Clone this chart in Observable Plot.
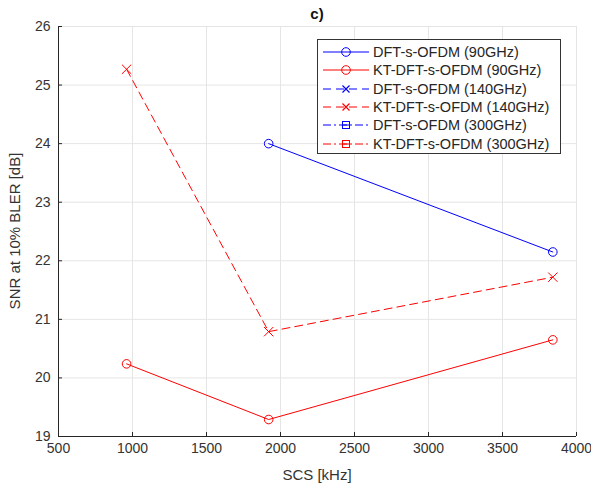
<!DOCTYPE html>
<html><head><meta charset="utf-8">
<script src="https://cdn.jsdelivr.net/npm/d3@7"></script>
<script src="https://cdn.jsdelivr.net/npm/@observablehq/plot@0.6"></script>
<style>
body{margin:0;background:#fff;font-family:"Liberation Sans",Arial,sans-serif;}
#wrap{position:relative;width:591px;height:489px;}
#legend{position:absolute;left:317px;top:39px;width:244px;height:115px;border:1px solid #333;background:#fff;box-sizing:border-box;padding-top:3px;}
.row{display:flex;align-items:center;height:18.3px;font-size:14.5px;color:#262626;white-space:nowrap;}
.row svg{margin-left:5px;margin-right:4px;flex:none;}
</style></head><body><div id="wrap"></div>
<script>
// data
const scsDFT90 = [1920, 3840];
const snrDFT90 = [24.0, 22.15];
const scsKT90 = [960, 1920, 3840];
const snrKT90 = [20.24, 19.29, 20.65];
const scsKT140 = [960, 1920, 3840];
const snrKT140 = [25.27, 20.79, 21.72];
const xTicks = [500, 1000, 1500, 2000, 2500, 3000, 3500, 4000];
const yTicks = [19, 20, 21, 22, 23, 24, 25, 26];
const seriesNames = ["DFT-s-OFDM (90GHz)", "KT-DFT-s-OFDM (90GHz)", "DFT-s-OFDM (140GHz)", "KT-DFT-s-OFDM (140GHz)", "DFT-s-OFDM (300GHz)", "KT-DFT-s-OFDM (300GHz)"];
const seriesColors = ["#0000ff", "#ff0000", "#0000ff", "#ff0000", "#0000ff", "#ff0000"];
const seriesDash = ["none", "none", "8,5", "8,5", "8,3,2,3", "8,3,2,3"];
const seriesSymbol = ["circle", "circle", "times", "times", "square", "square"];

const toRows = (xs, ys) => xs.map((x, i) => ({x, y: ys[i]}));
const series = [
  toRows(scsDFT90, snrDFT90),
  toRows(scsKT90, snrKT90),
  [],
  toRows(scsKT140, snrKT140),
  [],
  []
];

const W = 591, H = 489, mL = 58, mR = 15, mT = 26, mB = 53;
const frameH = H - mT - mB, frameW = W - mL - mR;
const axisColor = "#262626";

const marks = [
  Plot.ruleX(xTicks, {stroke: "#e5e5e5", strokeWidth: 1}),
  Plot.ruleY(yTicks, {stroke: "#e5e5e5", strokeWidth: 1}),
];
series.forEach((rows, i) => {
  if (!rows.length) return;
  marks.push(Plot.line(rows, {x: "x", y: "y", stroke: seriesColors[i], strokeWidth: 1, strokeDasharray: seriesDash[i] === "none" ? null : seriesDash[i]}));
  marks.push(Plot.dot(rows, {x: "x", y: "y", stroke: seriesColors[i], symbol: seriesSymbol[i], r: 4.3, fill: "none", strokeWidth: 1}));
});
marks.push(
  Plot.ruleY([19], {stroke: axisColor, strokeWidth: 1}),
  Plot.ruleX([500], {stroke: axisColor, strokeWidth: 1}),
  Plot.ruleX(xTicks, {stroke: axisColor, insetTop: frameH - 4}),
  Plot.ruleY(yTicks, {stroke: axisColor, insetRight: frameW - 4}),
  Plot.axisX(xTicks, {tickSize: 0, tickPadding: 7, fontSize: 14, fill: "#333", label: null, tickFormat: d => String(d)}),
  Plot.axisY(yTicks, {tickSize: 0, tickPadding: 8, fontSize: 14, fill: "#333", label: null, tickFormat: d => String(d)})
);

const chart = Plot.plot({
  width: W, height: H,
  marginLeft: mL, marginRight: mR, marginTop: mT, marginBottom: mB,
  style: {fontFamily: '"Liberation Sans", Arial, sans-serif', background: "#fff", overflow: "visible"},
  x: {domain: [500, 4000]},
  y: {domain: [19, 26]},
  marks
});
const wrap = document.getElementById("wrap");
wrap.appendChild(chart);

// titles as real text
const svg = d3.select(chart);
svg.append("text").attr("x", (mL + W - mR) / 2).attr("y", 19).attr("text-anchor", "middle")
  .attr("font-size", 15).attr("font-weight", "bold").attr("fill", "#111").text("c)");
svg.append("text").attr("x", (mL + W - mR) / 2).attr("y", 480).attr("text-anchor", "middle")
  .attr("font-size", 15).attr("fill", "#333").text("SCS [kHz]");
svg.append("text").attr("transform", `translate(20,${mT + frameH / 2}) rotate(-90)`).attr("text-anchor", "middle")
  .attr("font-size", 15).attr("fill", "#333").text("SNR at 10% BLER [dB]");

// legend
const leg = document.createElement("div");
leg.id = "legend";
seriesNames.forEach((name, i) => {
  const row = document.createElement("div");
  row.className = "row";
  const c = seriesColors[i];
  let sym = "";
  if (seriesSymbol[i] === "circle") sym = `<circle cx="23" cy="7" r="4.3" fill="none" stroke="${c}"/>`;
  else if (seriesSymbol[i] === "times") sym = `<path d="M19.5,3.5L26.5,10.5M26.5,3.5L19.5,10.5" stroke="${c}" stroke-width="1.2"/>`;
  else sym = `<rect x="19.5" y="3.5" width="7" height="7" fill="none" stroke="${c}"/><line x1="19.5" x2="26.5" y1="7" y2="7" stroke="${c}"/>`;
  const dash = seriesDash[i] === "none" ? "" : `stroke-dasharray="${seriesDash[i]}"`;
  row.innerHTML = `<svg width="46" height="14"><line x1="0" x2="46" y1="7" y2="7" stroke="${c}" ${dash}/>${sym}</svg><span>${name}</span>`;
  leg.appendChild(row);
});
wrap.appendChild(leg);
</script>
</body></html>
